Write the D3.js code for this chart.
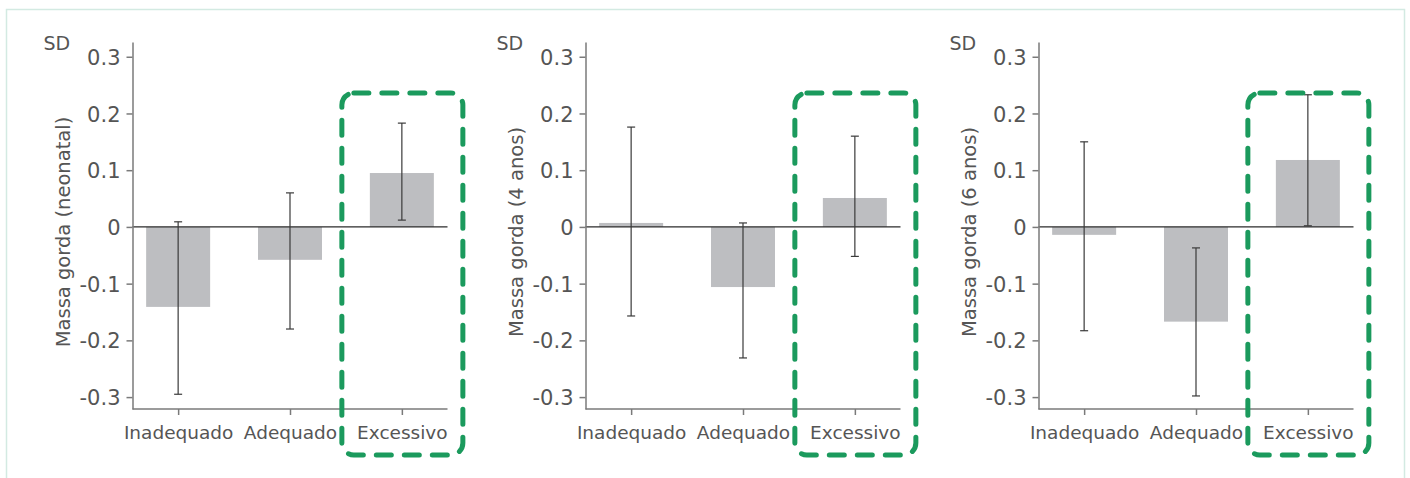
<!DOCTYPE html>
<html>
<head>
<meta charset="utf-8">
<script src="https://cdn.jsdelivr.net/npm/d3@7"></script>
<style>
  html, body { margin: 0; padding: 0; background: #fff; }
  svg { display: block; font-family: "DejaVu Sans", sans-serif; }
</style>
</head>
<body>
<div id="chart"></div>
<script>
const categories = ["Inadequado", "Adequado", "Excessivo"];
const yLabels = ["Massa gorda (neonatal)", "Massa gorda (4 anos)", "Massa gorda (6 anos)"];
const yTicks = [-0.3, -0.2, -0.1, 0, 0.1, 0.2, 0.3];

// mean and 95% interval per group, one set per panel
const neonatalMean = [-0.141, -0.058, 0.095];
const neonatalLow  = [-0.295, -0.180, 0.012];
const neonatalHigh = [0.009, 0.060, 0.183];

const anos4Mean = [0.007, -0.106, 0.051];
const anos4Low  = [-0.157, -0.231, -0.052];
const anos4High = [0.176, 0.007, 0.160];

const anos6Mean = [-0.014, -0.167, 0.118];
const anos6Low  = [-0.183, -0.298, 0.002];
const anos6High = [0.150, -0.037, 0.233];

const panels = [
  {label: yLabels[0], mean: neonatalMean, low: neonatalLow, high: neonatalHigh},
  {label: yLabels[1], mean: anos4Mean, low: anos4Low, high: anos4High},
  {label: yLabels[2], mean: anos6Mean, low: anos6Low, high: anos6High}
];

const W = 1410, H = 478;
const svg = d3.select("#chart").append("svg").attr("width", W).attr("height", H);

// light frame round the figure
svg.append("rect")
  .attr("x", 6.5).attr("y", 9.5).attr("width", W - 12).attr("height", H + 20)
  .attr("fill", "none").attr("stroke", "#d3eae2").attr("stroke-width", 1.5);

const axisW = 315;
const plotTop = 42, plotBottom = 409;
const y = d3.scaleLinear().domain([-0.321, 0.326]).range([plotBottom, plotTop]);
const x = d3.scalePoint().domain(categories).range([0, axisW]).padding(0.408);
const barW = 64;
const textCol = "#555";

panels.forEach((p, i) => {
  const ox = 132.5 + i * 453;
  const g = svg.append("g").attr("transform", `translate(${ox},0)`);

  // bars
  g.selectAll("rect.bar").data(categories).join("rect")
    .attr("class", "bar")
    .attr("x", d => x(d) - barW / 2)
    .attr("width", barW)
    .attr("y", (d, j) => y(Math.max(0, p.mean[j])))
    .attr("height", (d, j) => Math.abs(y(p.mean[j]) - y(0)))
    .attr("fill", "#bdbec1");

  // zero line
  g.append("line")
    .attr("x1", 0).attr("x2", axisW)
    .attr("y1", y(0)).attr("y2", y(0))
    .attr("stroke", "#2b2b2b").attr("stroke-width", 1.2);

  // error bars
  const eb = g.selectAll("g.err").data(categories).join("g").attr("class", "err")
    .attr("stroke", "#3a3a3a").attr("stroke-width", 1.2);
  eb.append("line")
    .attr("x1", d => x(d)).attr("x2", d => x(d))
    .attr("y1", (d, j) => y(p.high[j])).attr("y2", (d, j) => y(p.low[j]));
  eb.append("line")
    .attr("x1", d => x(d) - 4).attr("x2", d => x(d) + 4)
    .attr("y1", (d, j) => y(p.high[j])).attr("y2", (d, j) => y(p.high[j]));
  eb.append("line")
    .attr("x1", d => x(d) - 4).attr("x2", d => x(d) + 4)
    .attr("y1", (d, j) => y(p.low[j])).attr("y2", (d, j) => y(p.low[j]));

  // y axis
  const ya = g.append("g")
    .call(d3.axisLeft(y).tickValues(yTicks).tickSize(6).tickSizeOuter(0)
      .tickFormat(d => d === 0 ? "0" : d.toFixed(1)));
  ya.selectAll("path, line").attr("stroke", "#7a7a7a").attr("stroke-width", 1.5);
  ya.selectAll("text").attr("x", -12).attr("dy", "0.36em").attr("fill", textCol)
    .style("font-size", "21px").style("font-family", "DejaVu Sans, sans-serif");

  // x axis
  const xa = g.append("g").attr("transform", `translate(0,${plotBottom})`)
    .call(d3.axisBottom(x).tickSize(6).tickSizeOuter(0));
  xa.select(".domain").attr("d", `M0,0H${axisW}`);
  xa.selectAll("path, line").attr("stroke", "#7a7a7a").attr("stroke-width", 1.5);
  xa.selectAll("text").attr("y", 17).attr("fill", textCol)
    .style("font-size", "18.5px").style("font-family", "DejaVu Sans, sans-serif");

  // titles
  g.append("text").attr("x", -89).attr("y", 50)
    .attr("fill", textCol).style("font-size", "19px").text("SD");
  g.append("text")
    .attr("transform", `translate(-63,232) rotate(-90)`)
    .attr("text-anchor", "middle")
    .attr("fill", textCol).style("font-size", "19.5px").text(p.label);

  // highlight box round the last group
  const cx = x("Excessivo");
  g.append("rect")
    .attr("x", cx - 60).attr("y", 93).attr("width", 121).attr("height", 362)
    .attr("rx", 12).attr("ry", 12)
    .attr("fill", "none").attr("stroke", "#1b9a5d").attr("stroke-width", 5)
    .attr("stroke-dasharray", "15 13").attr("stroke-linecap", "round");
});
</script>
</body>
</html>
